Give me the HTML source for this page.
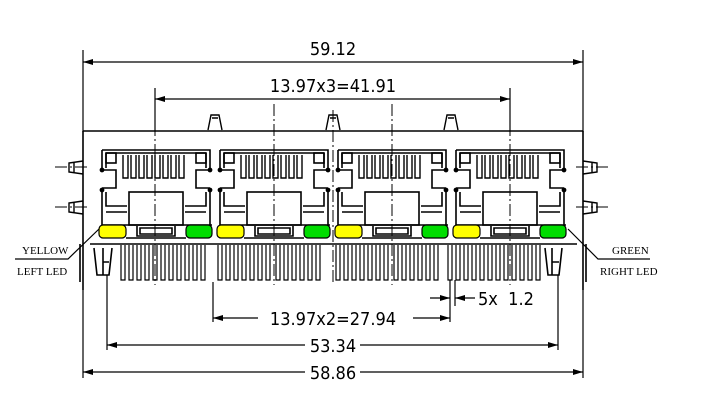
<!DOCTYPE html>
<html><head><style>
html,body{margin:0;padding:0;background:#fff;width:703px;height:418px;overflow:hidden}
svg{display:block}
.t{font-family:"DejaVu Sans Condensed","Liberation Sans Narrow","Liberation Sans",sans-serif;font-size:18px;fill:#000}
.s{font-family:"Liberation Serif",serif;font-size:11px;fill:#000}
</style></head><body>
<svg width="703" height="418" viewBox="0 0 703 418" xmlns="http://www.w3.org/2000/svg">
<defs>
<marker id="a" markerWidth="10" markerHeight="6" refX="10" refY="3" orient="auto-start-reverse" markerUnits="userSpaceOnUse"><path d="M0,0 L10,3 L0,6 z" fill="#000"/></marker>
<g id="port" fill="none" stroke="#000" stroke-width="1.6">
  <path d="M102,150 H210 V170 M102,150 V170" />
  <path d="M106,153 H206 M106,153 V168 M206,153 V168"/>
  <rect x="106" y="153" width="10" height="10"/><rect x="196" y="153" width="10" height="10"/>
  <g stroke-width="1.4">
    <path d="M123,155v23h5v-23M131,155v23h5v-23M139,155v23h5v-23M147,155v23h5v-23M155,155v23h5v-23M163,155v23h5v-23M171,155v23h5v-23M179,155v23h5v-23"/>
  </g>
  <path d="M102,170 H116 V188 H102 M210,170 H196 V188 H210"/>
  <circle cx="102" cy="170" r="1.6" fill="#000"/><circle cx="210" cy="170" r="1.6" fill="#000"/>
  <circle cx="102" cy="190" r="1.6" fill="#000"/><circle cx="210" cy="190" r="1.6" fill="#000"/>
  <path d="M102,190 V225 M210,190 V225 M106,192 V206 H127 M206,192 V206 H185 M106,212 H127 M206,212 H185"/>
  <rect x="129" y="192" width="54" height="33"/>
  <path d="M102,225 H212"/>
  <rect x="99" y="225" width="27" height="13" rx="4" fill="#ffff00" stroke-width="1.2"/>
  <rect x="186" y="225" width="26" height="13" rx="4" fill="#00dd00" stroke-width="1.2"/>
  <path d="M126,238 H186 M137,226 V236 H175 V226 M140,228 H172 V234 H140 z"/>
</g>
<g id="tab" fill="none" stroke="#000" stroke-width="1.4"><path d="M-7,130 L-4,115 H4 L7,130 M-3,118 H3"/></g>
<g id="side" fill="none" stroke="#000" stroke-width="1.4"><path d="M0,-6 L-14,-4 V5 L0,7 M-9,-5 V5"/></g>
<g id="pin" fill="none" stroke="#000" stroke-width="1.2"><path d="M0,245v35h4v-35"/></g>
</defs>

<g stroke="#000" stroke-width="1.2" fill="none">
<path d="M83,50 V132 M583,50 V132"/>
<path d="M83,62 H583" marker-start="url(#a)" marker-end="url(#a)"/>
<path d="M155,88 V132 M510,88 V132"/>
<path d="M155,99 H510" marker-start="url(#a)" marker-end="url(#a)"/>
</g>
<text class="t" x="333" y="55" text-anchor="middle">59.12</text>
<text class="t" x="333" y="92" text-anchor="middle">13.97x3=41.91</text>

<use href="#tab" x="215"/><use href="#tab" x="333"/><use href="#tab" x="451"/>

<g fill="none" stroke="#000" stroke-width="1.6">
<path d="M83,131 H583"/>
<path d="M83,131 V290 M583,131 V290"/>
<path d="M90,244 H577"/>
<path d="M80,244 V282 M586,244 V282"/>
<path d="M94,248 L97,275 H109 L112,248 M103,248 V275 M103,262 H109"/>
<path d="M545,248 L548,275 H559 L562,248 M552,248 V275 M552,262 H559"/>
</g>
<use href="#side" x="83" y="167"/><use href="#side" x="83" y="207"/>
<g transform="translate(583,0) scale(-1,1)"><use href="#side" x="0" y="167"/><use href="#side" x="0" y="207"/></g>

<use href="#port"/><use href="#port" x="118"/><use href="#port" x="236"/><use href="#port" x="354"/>

<!-- pins -->
<use href="#pin" x="121"/><use href="#pin" x="129"/><use href="#pin" x="137"/><use href="#pin" x="145"/><use href="#pin" x="153"/><use href="#pin" x="161"/><use href="#pin" x="169"/><use href="#pin" x="177"/><use href="#pin" x="185"/><use href="#pin" x="193"/><use href="#pin" x="201"/>
<use href="#pin" x="218"/><use href="#pin" x="226"/><use href="#pin" x="234"/><use href="#pin" x="242"/><use href="#pin" x="250"/><use href="#pin" x="258"/><use href="#pin" x="266"/><use href="#pin" x="276"/><use href="#pin" x="284"/><use href="#pin" x="292"/><use href="#pin" x="300"/><use href="#pin" x="308"/><use href="#pin" x="316"/>
<use href="#pin" x="336"/><use href="#pin" x="344"/><use href="#pin" x="352"/><use href="#pin" x="360"/><use href="#pin" x="368"/><use href="#pin" x="376"/><use href="#pin" x="384"/><use href="#pin" x="394"/><use href="#pin" x="402"/><use href="#pin" x="410"/><use href="#pin" x="418"/><use href="#pin" x="426"/><use href="#pin" x="434"/>
<use href="#pin" x="448"/><use href="#pin" x="456"/><use href="#pin" x="464"/><use href="#pin" x="472"/><use href="#pin" x="480"/><use href="#pin" x="488"/><use href="#pin" x="496"/><use href="#pin" x="504"/><use href="#pin" x="512"/><use href="#pin" x="520"/><use href="#pin" x="528"/><use href="#pin" x="536"/>

<g stroke="#000" stroke-width="1" stroke-dasharray="12,3,2,3" fill="none">
<path d="M155,104 V285 M274,104 V285 M392,104 V285 M510,104 V285 M333,110 V285"/>
<path d="M55,167 H90 M55,207 H90 M576,167 H610 M576,207 H610"/>
</g>

<g stroke="#000" stroke-width="1.2" fill="none">
<path d="M15,259 H68 L99,229"/>
<path d="M650,259 H598 L568,229"/>
</g>
<text class="s" x="22" y="254">YELLOW</text>
<text class="s" x="17" y="275">LEFT LED</text>
<text class="s" x="612" y="254">GREEN</text>
<text class="s" x="600" y="275">RIGHT LED</text>

<g stroke="#000" stroke-width="1.2" fill="none">
<path d="M450,280 V322 M455,280 V306"/>
<path d="M430,298 H450" marker-end="url(#a)"/>
<path d="M475,298 H455" marker-end="url(#a)"/>
<path d="M213,282 V322"/>
<path d="M213,318 H450" marker-start="url(#a)" marker-end="url(#a)"/>
<path d="M107,275 V350 M558,275 V350"/>
<path d="M107,345 H558" marker-start="url(#a)" marker-end="url(#a)"/>
<path d="M83,290 V378 M583,290 V378"/>
<path d="M83,372 H583" marker-start="url(#a)" marker-end="url(#a)"/>
</g>
<rect x="258" y="308" width="155" height="20" fill="#fff"/>
<text class="t" x="333" y="325" text-anchor="middle">13.97x2=27.94</text>
<rect x="305" y="335" width="55" height="20" fill="#fff"/>
<text class="t" x="333" y="352" text-anchor="middle">53.34</text>
<rect x="305" y="362" width="55" height="20" fill="#fff"/>
<text class="t" x="333" y="379" text-anchor="middle">58.86</text>
<text class="t" x="478" y="305" xml:space="preserve">5x  1.2</text>
</svg>
</body></html>
